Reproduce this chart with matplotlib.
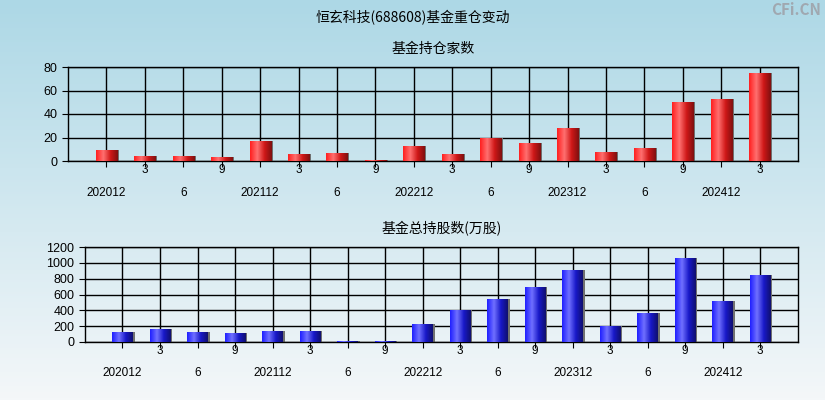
import numpy as np
import matplotlib
matplotlib.use("Agg")
import matplotlib.pyplot as plt
from matplotlib.colors import LinearSegmentedColormap

plt.rcParams['font.family'] = ['Noto Sans CJK SC', 'DejaVu Sans']

labels = ["202012","3","6","9","202112","3","6","9","202212","3","6","9","202312","3","6","9","202412","3"]
funds = [9,4,4,3,17,6,7,1,13,6,20,15,28,8,11,50,53,75]
shares = [130,165,130,115,145,145,10,10,230,405,545,690,905,200,370,1065,520,850]

fig = plt.figure(figsize=(8.25,4.0), dpi=100)
bg = fig.add_axes([0,0,1,1], zorder=-10)
g = np.linspace(0,1,200).reshape(-1,1)
bgc = LinearSegmentedColormap.from_list('bg', ['#add8e6', '#f4f7f9'])
bg.imshow(g, aspect='auto', cmap=bgc, extent=[0,1,0,1], origin='upper')
bg.axis('off')

red = LinearSegmentedColormap.from_list('r', ['#ff2020', '#ff7070', '#d01818', '#801010'])
blue = LinearSegmentedColormap.from_list('b', ['#2020ff', '#7070ff', '#1818c8', '#101070'])
hg = np.linspace(0,1,50).reshape(1,-1)

def panel(rect, vals, ylim, yticks, cmap, title, low):
    ax = fig.add_axes(rect)
    ax.set_facecolor('none')
    x = np.arange(len(vals))
    w = 0.55
    ax.bar(x+0.05, vals, w, color='#707070', zorder=2)
    bars = ax.bar(x, vals, w, color='none', zorder=3)
    for b, v in zip(bars, vals):
        im = ax.imshow(hg, aspect='auto', cmap=cmap, extent=[b.get_x(), b.get_x()+w, 0, v], zorder=3)
        im.set_clip_path(b)
    ax.set_xlim(-1, len(vals))
    ax.set_ylim(*ylim)
    ax.set_yticks(yticks)
    ax.set_xticks(x)
    ax.set_xticklabels(['' for _ in x])
    for i, l in enumerate(labels):
        ax.text(i, -0.10 if i % 2 else low, l, transform=ax.get_xaxis_transform(),
                ha='center', va='center', fontsize=8.5, family=['Liberation Sans'])
    ax.grid(True, color='black', lw=1, zorder=1)
    ax.tick_params(labelsize=9, length=4, direction='out')
    for s in ax.spines.values():
        s.set_linewidth(1)
    ax.set_title(title, fontsize=10, pad=10)
    for t in ax.get_yticklabels():
        t.set_family(['Liberation Sans'])
    return ax

panel([0.0824, 0.5975, 0.885, 0.235], funds, (0, 80), [0,20,40,60,80], red, '基金持仓家数', -0.34)
panel([0.103, 0.145, 0.864, 0.2375], shares, (0, 1200), list(range(0,1201,200)), blue, '基金总持股数(万股)', -0.33)

fig.text(0.5, 0.955, '恒玄科技(688608)基金重仓变动', ha='center', va='center', fontsize=10)
fig.text(0.995, 0.975, 'CFi.CN', ha='right', va='center', fontsize=11, color='#a0a8b0', fontweight='bold')
fig.savefig('out.png', dpi=100)
